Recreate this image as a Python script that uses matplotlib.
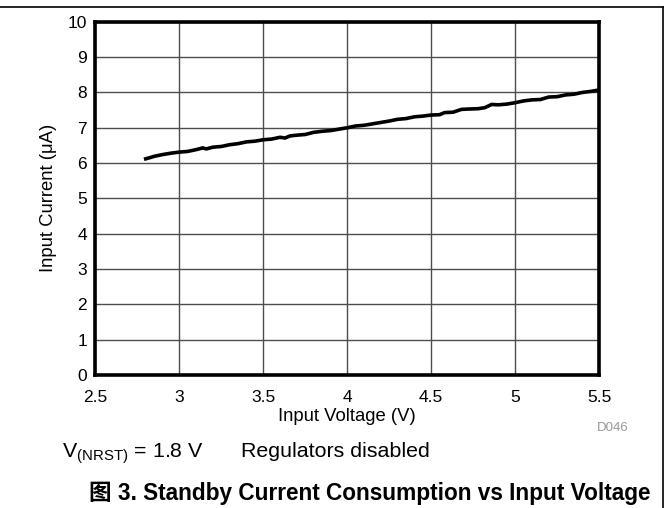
import matplotlib
matplotlib.use("Agg")
import matplotlib.pyplot as plt
from matplotlib.lines import Line2D

plt.rcParams['font.family'] = ['Liberation Sans', 'Noto Sans CJK SC', 'DejaVu Sans']
plt.rcParams['mathtext.fontset'] = 'custom'
plt.rcParams['mathtext.rm'] = 'Liberation Sans'

# input voltage (V) vs standby current (uA)
voltage = [2.80, 2.83, 2.85, 2.90, 2.95, 3.00, 3.05, 3.10, 3.14, 3.16, 3.20, 3.25,
           3.30, 3.35, 3.40, 3.45, 3.50, 3.55, 3.60, 3.63, 3.66, 3.70, 3.75, 3.80,
           3.85, 3.90, 3.95, 4.00, 4.05, 4.10, 4.15, 4.20, 4.25, 4.30, 4.35, 4.40,
           4.45, 4.50, 4.55, 4.58, 4.63, 4.68, 4.72, 4.78, 4.82, 4.86, 4.90, 4.95,
           5.00, 5.05, 5.10, 5.15, 5.20, 5.25, 5.30, 5.35, 5.40, 5.45, 5.50]
current = [6.12, 6.16, 6.19, 6.24, 6.28, 6.31, 6.33, 6.38, 6.43, 6.40, 6.45, 6.47,
           6.52, 6.55, 6.60, 6.62, 6.66, 6.68, 6.73, 6.71, 6.77, 6.79, 6.81, 6.87,
           6.90, 6.92, 6.96, 7.00, 7.05, 7.07, 7.11, 7.15, 7.19, 7.24, 7.26, 7.31,
           7.33, 7.36, 7.37, 7.43, 7.44, 7.52, 7.53, 7.54, 7.57, 7.66, 7.65, 7.67,
           7.71, 7.76, 7.79, 7.80, 7.87, 7.88, 7.93, 7.95, 8.00, 8.03, 8.07]

xticks = [2.5, 3, 3.5, 4, 4.5, 5, 5.5]
xticklabels = ['2.5', '3', '3.5', '4', '4.5', '5', '5.5']
yticks = list(range(0, 11))

fig = plt.figure(figsize=(6.69, 5.08), dpi=100)
ax = fig.add_axes([0.1425, 0.262, 0.753, 0.695])

ax.plot(voltage, current, color='black', lw=2.6, zorder=3)

ax.set_xlim(2.5, 5.5)
ax.set_ylim(0, 10)
ax.set_xticks(xticks)
ax.set_xticklabels(xticklabels)
ax.set_yticks(yticks)
ax.tick_params(length=0, labelsize=12.5)
ax.tick_params(axis='x', pad=11)
ax.tick_params(axis='y', pad=6)
ax.grid(True, color='#4d4d4d', lw=1.0, zorder=0)
for s in ax.spines.values():
    s.set_linewidth(2.6)
    s.set_zorder(4)

ax.set_xlabel('Input Voltage (V)', fontsize=13.3, labelpad=2)
ax.set_ylabel('Input Current (\u03bcA)', fontsize=13.3, labelpad=8)

fig.text(0.94, 0.157, 'D046', color='#999999', fontsize=9.5, ha='right', va='center')
fig.text(0.093, 0.1, r'V$_{\mathrm{(NRST)}}$ = 1.8 V', fontsize=15.4, va='baseline')
fig.text(0.36, 0.1, 'Regulators disabled', fontsize=15.4, va='baseline')
fig.text(0.553, 0.016, '图 3. Standby Current Consumption vs Input Voltage',
         fontsize=16.3, fontweight='bold', ha='center', va='baseline')

# frame lines at the top and right of the figure
fig.add_artist(Line2D([0, 0.991], [0.986, 0.986], color='black', lw=1.2,
                      transform=fig.transFigure))
fig.add_artist(Line2D([0.991, 0.991], [0, 0.986], color='black', lw=1.2,
                      transform=fig.transFigure))

fig.savefig('out.png', dpi=100)
